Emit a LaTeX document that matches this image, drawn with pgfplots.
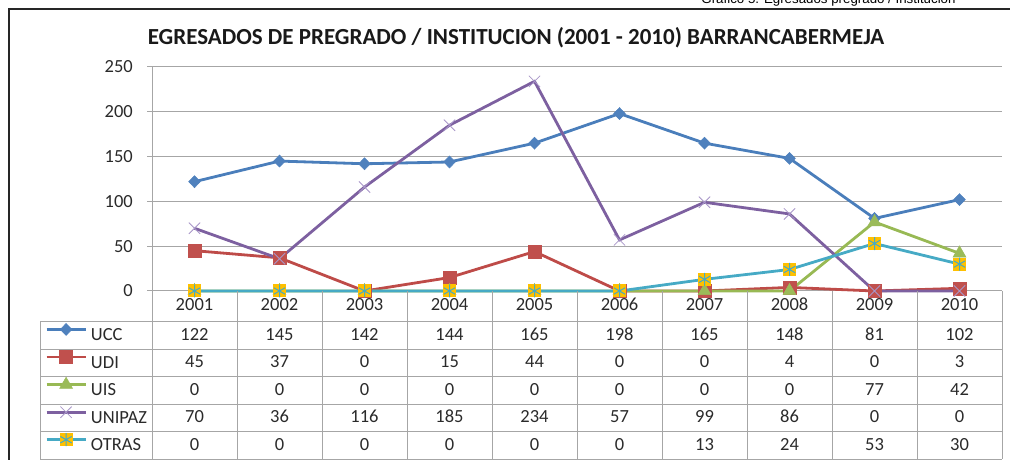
\documentclass[border=0pt]{standalone}
\usepackage{pgfplots}
\pgfplotsset{compat=1.18}
\usepackage{pgfplotstable}
\usepackage{fontspec}
\setmainfont{Carlito}
\newfontfamily\arialfont{Liberation Sans}
\definecolor{cUCC}{HTML}{4A7EBB}
\definecolor{fUCC}{HTML}{4F81BD}
\definecolor{cUDI}{HTML}{BE4B48}
\definecolor{fUDI}{HTML}{C0504D}
\definecolor{cUIS}{HTML}{98B954}
\definecolor{fUIS}{HTML}{9BBB59}
\definecolor{cUNI}{HTML}{7D60A0}
\definecolor{mUNI}{HTML}{A896C8}
\definecolor{cOTR}{HTML}{46AAC5}
\definecolor{gold}{HTML}{FFC000}
\definecolor{gridgray}{HTML}{A6A6A6}
\definecolor{txt}{HTML}{2A2A2A}
\newcommand\tabfont{\fontsize{18.5}{20}\selectfont}
\pgfdeclareplotmark{sqast}{%
  \pgfpathrectangle{\pgfqpoint{-\pgfplotmarksize}{-\pgfplotmarksize}}{\pgfqpoint{2\pgfplotmarksize}{2\pgfplotmarksize}}%
  \pgfsetfillcolor{gold}%
  \pgfusepathqfill
  \pgfuseplotmark{asterisk}}
\pgfplotstableread{
x year UCC UDI UIS UNIPAZ OTRAS
0 2001 122 45 0 70 0
1 2002 145 37 0 36 0
2 2003 142 0 0 116 0
3 2004 144 15 0 185 0
4 2005 165 44 0 234 0
5 2006 198 0 0 57 0
6 2007 165 0 0 99 13
7 2008 148 4 0 86 24
8 2009 81 0 77 0 53
9 2010 102 3 42 0 30
}\data
\begin{document}
\begin{tikzpicture}[x=1pt,y=1pt]
\useasboundingbox (0,0) rectangle (1010,460);
\begin{axis}[
  at={(152pt,169pt)}, anchor=south west,
  width=850pt, height=224pt, scale only axis,
  xmin=-0.5, xmax=9.5, ymin=0, ymax=250,
  xtick={0,...,9}, xticklabels from table={\data}{year},
  ytick={0,50,...,250},
  axis x line*=bottom, axis y line*=left,
  axis line style={draw=gridgray, line width=1pt, -},
  ymajorgrids, grid style={draw=gridgray, line width=1pt},
  xtick style={draw=none}, ytick style={draw=gridgray, line width=1pt},
  tick align=outside, major tick length=5pt,
  ticklabel style={font=\tabfont, text=txt},
  /pgf/number format/assume math mode=true,
  yticklabel style={anchor=east, inner sep=0pt, xshift=-14pt},
  xticklabel style={anchor=base, inner sep=0pt, yshift=-15pt},
  clip=false,
  legend cell align=left,
  legend image code/.code={\draw[mark repeat=2, mark phase=2, #1] plot coordinates {(0pt,6.5pt) (19.5pt,6.5pt) (39pt,6.5pt)};},
  legend style={at={(axis description cs:-0.12588,-0.13839)}, anchor=north west,
    draw=none, fill=none, inner sep=0pt, row sep=0pt, column sep=4pt,
    nodes={inner sep=0pt, text height=18.5pt, text depth=9pt, font=\tabfont, text=txt}},
]
\addplot[cUCC, line width=2.8pt, mark=diamond*, mark size=6pt,
  mark options={fill=fUCC, draw=fUCC, line width=0.5pt, xscale=1.3}] table[x=x,y=UCC]{\data};
\addplot[cUDI, line width=2.8pt, mark=square*, mark size=6.5pt,
  mark options={fill=fUDI, draw=fUDI, line width=0.5pt}] table[x=x,y=UDI]{\data};
\addplot[cUIS, line width=2.8pt, mark=triangle*, mark size=7.5pt,
  mark options={fill=fUIS, draw=fUIS, line width=0.5pt}] table[x=x,y=UIS]{\data};
\addplot[cUNI, line width=2.8pt, mark=x, mark size=8pt,
  mark options={draw=mUNI, line width=0.8pt}] table[x=x,y=UNIPAZ]{\data};
\addplot[cOTR, line width=2.8pt, mark=sqast, mark size=6.5pt,
  mark options={draw=cOTR, line width=1pt}] table[x=x,y=OTRAS]{\data};
\legend{UCC,UDI,UIS,UNIPAZ,OTRAS}
\end{axis}
% table grid
\foreach \r in {0,...,5} {\draw[gridgray, line width=1pt] (40,{138-27.5*\r}) -- (1002,{138-27.5*\r});}
\draw[gridgray, line width=1pt] (40,0.5) -- (40,138);
\foreach \i in {0,...,10} {\draw[gridgray, line width=1pt] ({152+85*\i},169) -- ({152+85*\i},0.5);}
% table values
\foreach \col [count=\r from 0] in {UCC,UDI,UIS,UNIPAZ,OTRAS}{
  \foreach \i in {0,...,9}{
    \pgfplotstablegetelem{\i}{\col}\of\data
    \node[anchor=base, inner sep=0pt, font=\tabfont, text=txt] at ({194.5+85*\i},{119.5-27.5*\r}) {\pgfplotsretval};
  }
}
% frame, title, caption
\draw[line width=2pt, black!85] (8.5,-5) -- (8.5,450.5) -- (1020,450.5);
\node[anchor=base, inner sep=0pt, font=\bfseries\fontsize{23}{25}\selectfont, text=black!90] at (516,415.5)
  {EGRESADOS DE PREGRADO / INSTITUCION (2001 - 2010) BARRANCABERMEJA};
\node[anchor=base, inner sep=0pt, font=\arialfont\fontsize{13.3}{14}\selectfont] at (828.5,456)
  {Gráfico 5. Egresados pregrado / Institución};
\end{tikzpicture}
\end{document}
